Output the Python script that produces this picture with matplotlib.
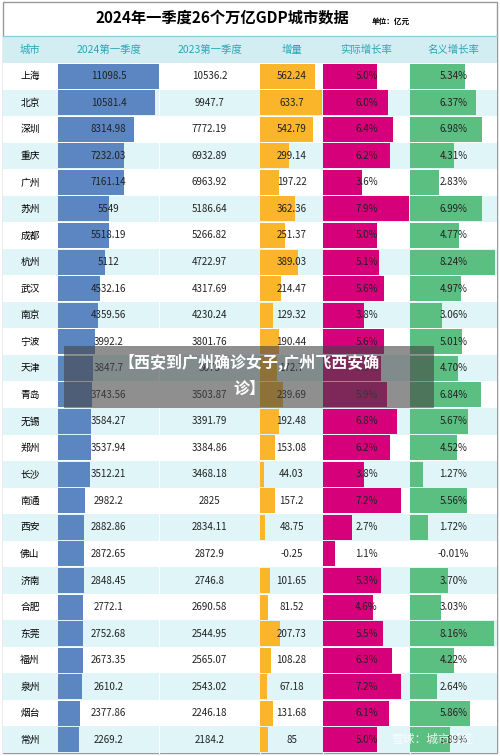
import numpy as np
import matplotlib.pyplot as plt
from matplotlib.patches import Rectangle
import matplotlib.transforms as mtransforms

plt.rcParams['font.family'] = ['Noto Sans CJK SC', 'DejaVu Sans']

cities = ["上海", "北京", "深圳", "重庆", "广州", "苏州", "成都", "杭州", "武汉", "南京",
          "宁波", "天津", "青岛", "无锡", "郑州", "长沙", "南通", "西安", "佛山", "济南",
          "合肥", "东莞", "福州", "泉州", "烟台", "常州"]
gdp_2024 = [11098.46, 10581.4, 8314.98, 7232.03, 7161.14, 5549, 5518.19, 5112, 4532.16, 4359.56,
            3992.2, 3847.7, 3743.56, 3584.27, 3537.94, 3512.21, 2982.2, 2882.86, 2872.65, 2848.45,
            2772.1, 2752.68, 2673.35, 2610.2, 2377.86, 2269.2]
gdp_2023 = [10536.22, 9947.7, 7772.19, 6932.89, 6963.92, 5186.64, 5266.82, 4722.97, 4317.69, 4230.24,
            3801.76, 3675.0, 3503.87, 3391.79, 3384.86, 3468.18, 2825, 2834.11, 2872.9, 2746.8,
            2690.58, 2544.95, 2565.07, 2543.02, 2246.18, 2184.2]
increase = [562.24, 633.7, 542.79, 299.14, 197.22, 362.36, 251.37, 389.03, 214.47, 129.32,
            190.44, 172.7, 239.69, 192.48, 153.08, 44.03, 157.2, 48.75, -0.25, 101.65,
            81.52, 207.73, 108.28, 67.18, 131.68, 85]
real_rate = [5.0, 6.0, 6.4, 6.2, 3.6, 7.9, 5.0, 5.1, 5.6, 3.8,
             5.6, 5.3, 5.9, 6.8, 6.2, 3.8, 7.2, 2.7, 1.1, 5.3,
             4.6, 5.5, 6.3, 7.2, 6.1, 5.0]
nominal_rate = [5.34, 6.37, 6.98, 4.31, 2.83, 6.99, 4.77, 8.24, 4.97, 3.06,
                5.01, 4.70, 6.84, 5.67, 4.52, 1.27, 5.56, 1.72, -0.01, 3.70,
                3.03, 8.16, 4.22, 2.64, 5.86, 3.89]
headers = ["城市", "2024第一季度", "2023第一季度", "增量", "实际增长率", "名义增长率"]

W, H = 500, 756
fig = plt.figure(figsize=(5, 7.56), dpi=100)
ax = fig.add_axes([0, 0, 1, 1])
ax.set_xlim(0, W)
ax.set_ylim(H, 0)
ax.axis('off')

n = len(cities)
top, bottom = 63, 753
rh = (bottom - top) / n
cols = [3, 58, 159, 260, 323, 410, 497]

ax.add_patch(Rectangle((3, 2), 494, bottom - 2, fill=False, ec='#999999', lw=1))
ax.text(222, 18, "2024年一季度26个万亿GDP城市数据", ha='center', va='center', fontsize=11, fontweight='bold')
ax.text(372, 21, "单位：亿元", ha='left', va='center', fontsize=5.5, fontweight='bold')
ax.add_patch(Rectangle((3, 36), 494, 27, color='#d3eef2', lw=0))
ax.plot([3, 497], [36, 36], color='#8fcfd9', lw=1)
for i, h in enumerate(headers):
    x = 30 if i == 0 else (cols[i] + cols[i + 1]) / 2
    ax.text(x, 50, h, ha='center', va='center', fontsize=7.5, color='#2aa5b8')

for i, c in enumerate(cities):
    y = top + i * rh
    ax.add_patch(Rectangle((3, y), 494, rh, color='#dff5f8' if i % 2 else 'white', lw=0))
    ax.text(30, y + rh / 2, c, ha='center', va='center', fontsize=7)
for x in cols[2:-1]:
    ax.plot([x, x], [top, bottom], color='white', lw=0.8)

ys = np.arange(n)
specs = [
    (1, gdp_2024, 11098.46 * 100 / 101, '#5b86c2', lambda v: f"{v:g}"),
    (2, gdp_2023, None, None, lambda v: f"{v:g}"),
    (3, increase, 633.7 * 63 / 62, '#fbb52a', lambda v: f"{v:g}"),
    (4, real_rate, 7.9 * 87 / 86, '#d6007a', lambda v: f"{v:.1f}%"),
    (5, nominal_rate, 8.24 * 87 / 85, '#5cbf82', lambda v: f"{v:.2f}%"),
]
for k, vals, vmax, color, fmt in specs:
    x0, x1 = cols[k], cols[k + 1]
    bax = fig.add_axes([x0 / W, 1 - bottom / H, (x1 - x0) / W, (bottom - top) / H])
    bax.set_ylim(n - 0.5, -0.5)
    bax.patch.set_alpha(0)
    bax.axis('off')
    if color:
        bax.set_xlim(0, vmax)
        bax.barh(ys, np.clip(vals, 0, None), height=0.94, color=color)
    trans = mtransforms.blended_transform_factory(bax.transAxes, bax.transData)
    for yy, v in zip(ys, vals):
        bax.text(0.5, yy, fmt(v), transform=trans, ha='center', va='center', fontsize=7, color='#222222')

ax2 = fig.add_axes([0, 0, 1, 1])
ax2.set_xlim(0, W)
ax2.set_ylim(H, 0)
ax2.axis('off')
ax2.add_patch(Rectangle((64, 346), 370, 62, color='#444444', alpha=0.6, lw=0))
ax2.text(249, 362, "【西安到广州确诊女子,广州飞西安确", ha='center', va='center', fontsize=11.5,
         fontweight='bold', color='white')
ax2.text(249, 389, "诊】", ha='center', va='center', fontsize=11.5, fontweight='bold', color='white')
ax2.text(432, 739, "雪球：城市财经", ha='center', va='center', fontsize=8.5, color='white', alpha=0.85)

fig.savefig("out.png", dpi=100)
